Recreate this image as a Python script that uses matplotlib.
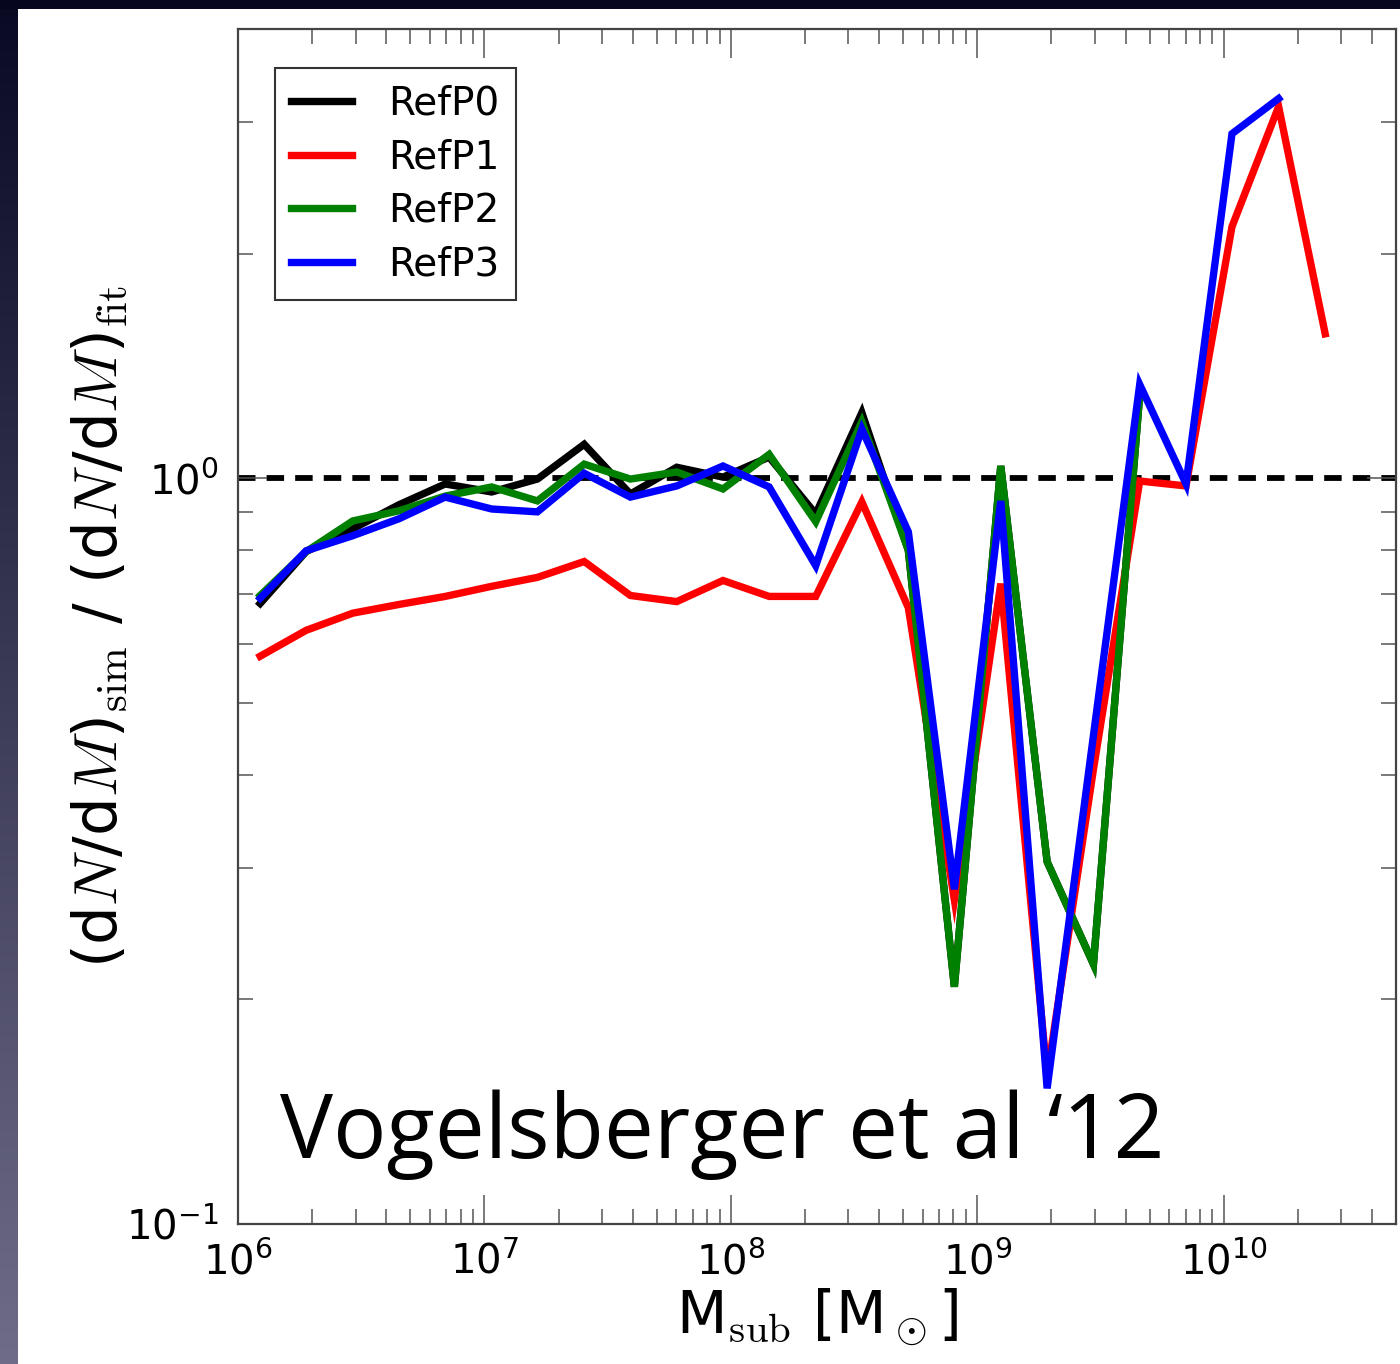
import matplotlib
matplotlib.use('Agg')
import matplotlib.pyplot as plt
import matplotlib.ticker as mticker
from matplotlib.patches import Rectangle
import numpy as np

plt.rcParams['mathtext.fontset'] = 'cm'
plt.rcParams['font.family'] = 'DejaVu Sans'
plt.rcParams['axes.unicode_minus'] = False

# subhalo mass bins [M_sun]
mass = [1.23e6, 1.89e6, 2.92e6, 4.50e6, 6.93e6, 1.07e7, 1.64e7, 2.54e7,
        3.91e7, 6.03e7, 9.29e7, 1.43e8, 2.21e8, 3.40e8, 5.25e8, 8.07e8,
        1.245e9, 1.92e9, 2.96e9, 4.56e9, 7.03e9, 1.08e10, 1.67e10, 2.58e10]

# ratio of simulated to fitted mass function
ref_p0 = [0.679, 0.797, 0.855, 0.921, 0.982, 0.958, 0.997, 1.110, 0.952, 1.034,
          1.003, 1.067, 0.895, 1.224, 0.800, 0.208, 1.038, 0.306, 0.223, 1.294]
ref_p1 = [0.577, 0.625, 0.659, 0.677, 0.694, 0.716, 0.736, 0.773, 0.696, 0.683,
          0.729, 0.694, 0.694, 0.929, 0.670, 0.272, 0.722, 0.158, 0.407, 0.991,
          0.976, 2.173, 3.148, 1.561]
ref_p2 = [0.696, 0.797, 0.876, 0.904, 0.946, 0.973, 0.932, 1.044, 0.997, 1.019,
          0.967, 1.076, 0.874, 1.190, 0.800, 0.208, 1.038, 0.306, 0.223, 1.294]
ref_p3 = [0.690, 0.799, 0.837, 0.882, 0.943, 0.909, 0.901, 1.015, 0.943, 0.976,
          1.038, 0.973, 0.763, 1.163, 0.847, 0.281, 0.932, 0.152, 0.452, 1.335,
          0.982, 2.895, 3.227]

series = [('RefP0', ref_p0, 'black'), ('RefP1', ref_p1, 'red'),
          ('RefP2', ref_p2, 'green'), ('RefP3', ref_p3, 'blue')]

fig = plt.figure(figsize=(14, 13.64), dpi=100, facecolor='white')

# slide frame: dark band on top, gradient band on the left
fig.patches.append(Rectangle((0, 1 - 9 / 1364), 1, 9 / 1364, transform=fig.transFigure,
                             facecolor='#06061e', edgecolor='none', zorder=0))
strip = fig.add_axes([0, 0, 18 / 1400, 1 - 9 / 1364])
grad = np.linspace(0, 1, 256).reshape(-1, 1)
top_c = np.array([0x0a, 0x0a, 0x24]) / 255
bot_c = np.array([0x6e, 0x6c, 0x86]) / 255
img = top_c[None, None, :] * (1 - grad[:, :, None]) + bot_c[None, None, :] * grad[:, :, None]
strip.imshow(img, aspect='auto', extent=[0, 1, 0, 1])
strip.axis('off')

ax = fig.add_axes([238 / 1400, 1 - 1224 / 1364, 1158 / 1400, 1195 / 1364])

for name, vals, col in series:
    ax.plot(mass[:len(vals)], vals, color=col, lw=5.3, label=name, solid_joinstyle='miter')

ax.axhline(1.0, color='black', lw=4.2, dashes=(3.0, 1.9), zorder=1)

ax.set_xscale('log')
ax.set_yscale('log')
ax.set_xlim(1e6, 5e10)
ax.set_ylim(0.1, 4.0)

fmt = mticker.FuncFormatter(lambda v, p: r'$\mathregular{10^{%d}}$' % round(np.log10(v)))
ax.xaxis.set_major_formatter(fmt)
ax.yaxis.set_major_formatter(fmt)
ax.xaxis.set_minor_formatter(mticker.NullFormatter())
ax.yaxis.set_minor_formatter(mticker.NullFormatter())

ax.tick_params(which='both', direction='in', top=True, right=True,
               color='#555555', width=1.1, labelsize=29)
ax.tick_params(which='major', length=21)
ax.tick_params(which='minor', length=10.5)
ax.tick_params(axis='x', pad=13)
ax.tick_params(axis='y', pad=14)
for sp in ax.spines.values():
    sp.set_linewidth(1.6)
    sp.set_color('#444444')

ax.set_xlabel(r'M$_{\rm sub}$ [M$_\odot$]', fontsize=42, labelpad=2)
ax.set_ylabel(r'(d$N$/d$M$)$_{\rm sim}$ / (d$N$/d$M$)$_{\rm fit}$', fontsize=44)
ax.yaxis.set_label_coords(-0.094, 0.5)

leg = ax.legend(loc='upper left', bbox_to_anchor=(0.032, 0.967), borderaxespad=0,
                fontsize=28, handlelength=1.55, handletextpad=0.95, labelspacing=0.4,
                borderpad=0.42, fancybox=False, framealpha=1)
leg.get_frame().set_edgecolor('#333333')
leg.get_frame().set_linewidth(1.5)

fig.text(280 / 1400, 1 - 1158 / 1364, 'Vogelsberger et al \u201812', family='Open Sans',
         fontsize=64, color='black', va='baseline', ha='left')

fig.savefig('out.png', dpi=100, facecolor=fig.get_facecolor())
